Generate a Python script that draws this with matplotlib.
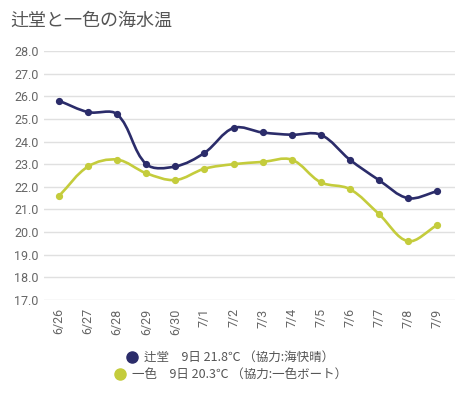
import numpy as np
import matplotlib.pyplot as plt
from matplotlib.path import Path
from matplotlib.patches import PathPatch

plt.rcParams['font.family'] = ['Roboto', 'Noto Sans CJK JP', 'DejaVu Sans']

dates = ["6/26", "6/27", "6/28", "6/29", "6/30", "7/1", "7/2",
         "7/3", "7/4", "7/5", "7/6", "7/7", "7/8", "7/9"]
tsujido = [25.8, 25.3, 25.2, 23.0, 22.9, 23.5, 24.6, 24.4, 24.3, 24.3, 23.2, 22.3, 21.5, 21.8]
isshiki = [21.6, 22.9, 23.2, 22.6, 22.3, 22.8, 23.0, 23.1, 23.2, 22.2, 21.9, 20.8, 19.6, 20.3]
labels = ["辻堂　9日 21.8℃ （協力:海快晴）", "一色　9日 20.3℃ （協力:一色ボート）"]
colors = ["#2b2c6a", "#c4cc3c"]

W, H = 467, 395
fig = plt.figure(figsize=(W / 100, H / 100), dpi=100)
ax = fig.add_axes([44 / W, 1 - 300 / H, (455 - 44) / W, (300 - 51) / H])
ax.set_xlim(-0.52, 13.62)
ax.set_ylim(17, 28)
ax.set_yticks(np.arange(17, 28.1, 1))
ax.set_yticklabels([f"{v:.1f}" for v in np.arange(17, 28.1, 1)])
ax.set_xticks(range(len(dates)))
ax.set_xticklabels(dates, rotation=90)
ax.tick_params(axis='both', length=0, labelsize=9, colors='#666666')
ax.tick_params(axis='y', pad=4)
ax.tick_params(axis='x', pad=6)
ax.grid(axis='y', color='#e0e0e0', linewidth=1)
for s in ax.spines.values():
    s.set_visible(False)


def spline_path(xs, ys, tension=0.35):
    # Chart.js style control points, computed in pixel space
    pts = ax.transData.transform(np.column_stack([xs, ys]))
    n = len(pts)
    verts = [pts[0]]
    codes = [Path.MOVETO]
    cps = []
    for i in range(n):
        prev = pts[max(i - 1, 0)]
        cur = pts[i]
        nxt = pts[min(i + 1, n - 1)]
        d01 = np.hypot(*(cur - prev))
        d12 = np.hypot(*(nxt - cur))
        s01 = d01 / (d01 + d12) if d01 + d12 else 0
        s12 = d12 / (d01 + d12) if d01 + d12 else 0
        cps.append((cur - tension * s01 * (nxt - prev),
                    cur + tension * s12 * (nxt - prev)))
    for i in range(1, n):
        verts += [cps[i - 1][1], cps[i][0], pts[i]]
        codes += [Path.CURVE4] * 3
    verts = ax.transData.inverted().transform(np.array(verts))
    return Path(verts, codes)


for ys, c in zip([tsujido, isshiki], colors):
    xs = np.arange(len(ys))
    ax.add_patch(PathPatch(spline_path(xs, ys), facecolor='none', edgecolor=c,
                           linewidth=1.9, zorder=3))
    ax.plot(xs, ys, 'o', color=c, markersize=4.2, zorder=4)

fig.text(10 / W, 1 - 21 / H, "辻堂と一色の海水温", fontsize=13, color='#555555', va='center',
         family=['Noto Sans CJK JP'])

fig.canvas.draw()
rend = fig.canvas.get_renderer()
for lab, c, y in zip(labels, colors, [357, 374]):
    t = fig.text(0.5 + 6 / W, 1 - y / H, lab, fontsize=9, color='#555555', ha='center', va='center',
                 family=['Noto Sans CJK JP', 'DejaVu Sans'])
    bb = t.get_window_extent(rend)
    fig.add_artist(plt.Line2D([(bb.x0 - 12) / W], [1 - y / H], marker='o', markersize=8,
                              color=c, linestyle='none', transform=fig.transFigure))

fig.savefig("out.png", dpi=100)
